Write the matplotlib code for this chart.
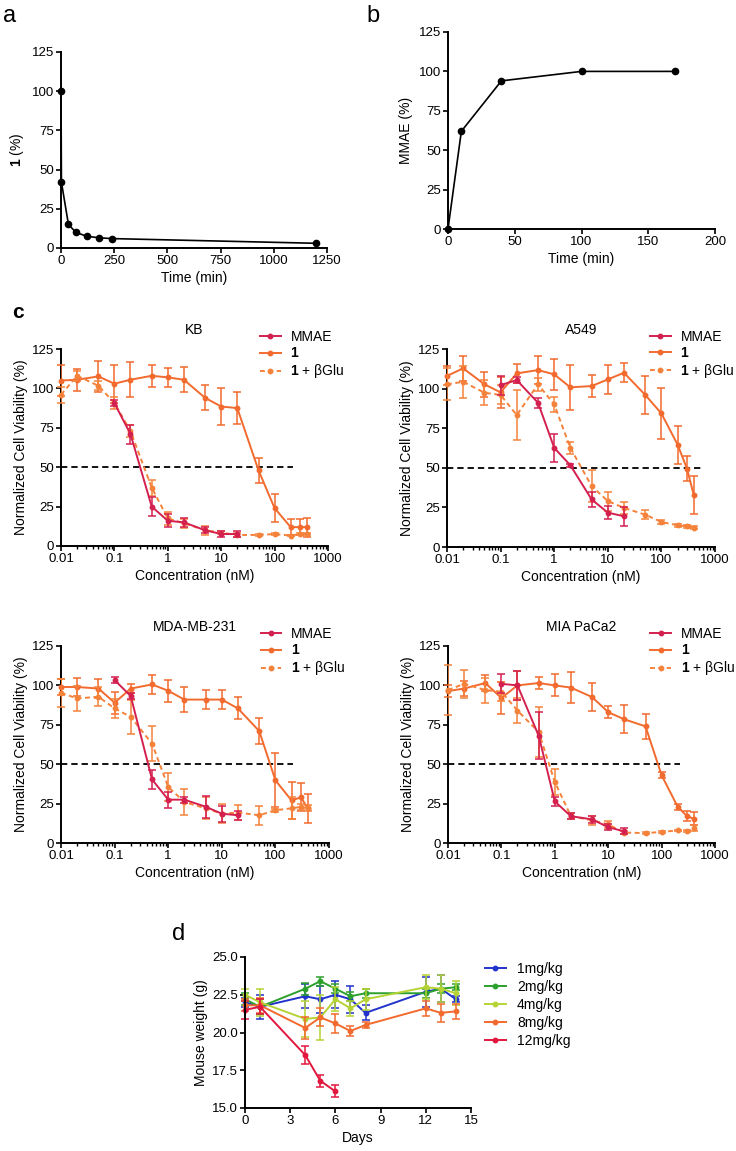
import matplotlib
matplotlib.use('Agg')
import matplotlib.pyplot as plt
from matplotlib.ticker import FixedLocator, LogLocator, NullFormatter

plt.rcParams['font.family'] = ['Liberation Sans', 'DejaVu Sans']
plt.rcParams['mathtext.fontset'] = 'custom'
plt.rcParams['mathtext.rm'] = 'Liberation Sans'
plt.rcParams['mathtext.bf'] = 'Liberation Sans:bold'

# panel a: release of 1 over time
time_a = [0, 2, 35, 70, 120, 180, 240, 1200]
remaining_a = [100, 42, 15, 10, 7.5, 6.5, 6, 3]

# panel b: MMAE formation
time_b = [0, 10, 40, 100, 170]
mmae_b = [0, 62, 94, 100, 100]

# panel c: cell viability (concentrations in nM)
conc = [0.01, 0.02, 0.05, 0.1, 0.2, 0.5, 1, 2, 5, 10, 20, 50, 100, 200, 300, 400]
conc_mmae = [0.1, 0.2, 0.5, 1, 2, 5, 10, 20]

kb_1 = [105, 105.5, 107.6, 103, 105.5, 108, 107, 105.5, 94, 88.5, 87.5, 48, 24, 12, 12, 12]
kb_1_err = [10, 7, 10, 12, 11, 7, 6, 8, 8, 12, 10, 8, 9, 5, 5, 6]
kb_glu = [96, 108, 101.7, 90.7, 73, 37, 17.5, 14.4, 10, 8.5, 7, 7, 7.6, 6.6, 7.6, 7.6]
kb_glu_err = [5, 3, 3, 4, 4, 5, 4, 3, 3, 1, 1, 0.5, 0.5, 0.5, 0.5, 0.5]
kb_mmae = [90.7, 71, 25, 16, 15, 10, 7.6, 7.6]
kb_mmae_err = [2, 6, 6, 4, 3, 2, 2, 2]

a549_1 = [108, 112.8, 102.7, 97.6, 109.6, 111.7, 109, 100.8, 101.6, 105.8, 110, 96, 84.3, 64.7, 49.5, 33]
a549_1_err = [6, 8, 8, 10, 6, 9, 10, 14, 7, 9, 6, 12, 16, 12, 8, 12]
a549_glu = [102.7, 104.3, 97.4, 96, 83.3, 102.7, 90, 62.6, 38.4, 29, 24.7, 20.4, 15.8, 13.7, 13, 12.2]
a549_glu_err = [10, 10, 8, 6, 16, 4, 5, 4, 10, 6, 4, 3, 1, 1, 1, 1]
a549_mmae = [102.2, 105.4, 91, 62.6, 51.6, 30, 21.7, 19.4]
a549_mmae_err = [6, 2, 3, 9, 1, 5, 4, 6]

mda_1 = [99, 99, 98, 89, 98, 100.6, 96.6, 91, 91, 91, 85.4, 71, 39.8, 27, 29, 22]
mda_1_err = [5, 6, 6, 7, 3, 6, 7, 8, 6, 6, 7, 8, 17, 12, 9, 9]
mda_glu = [95.3, 91.7, 92.8, 85.4, 80, 63, 35.6, 26, 22, 18.6, 19.3, 17.6, 20.8, 22, 22.9, 22]
mda_glu_err = [9, 8, 6, 6, 11, 11, 9, 8, 7, 6, 5, 6, 1, 7, 2, 2]
mda_mmae = [103.4, 93.2, 40.3, 27.5, 27.5, 23, 18.6, 17.6]
mda_mmae_err = [2, 2, 6, 5, 2, 7, 5, 3]

mia_1 = [96.4, 98, 101.5, 92, 100, 101.5, 100, 98.6, 92.6, 83, 78.5, 74, 43, 23, 17, 15.4]
mia_1_err = [4, 5, 5, 10, 9, 4, 7, 10, 9, 4, 9, 8, 2, 2, 3, 4]
mia_glu = [97, 101, 97, 96, 84, 70.4, 38.7, 17, 14.4, 11.8, 6.6, 6.3, 7, 8, 7.6, 9.7]
mia_glu_err = [16, 9, 8, 6, 8, 16, 8, 2, 3, 2, 1, 0.5, 0.5, 0.5, 0.5, 2]
mia_mmae = [101, 100, 68, 26.4, 17, 15, 10, 7.4]
mia_mmae_err = [6, 9, 15, 3, 2, 2, 2, 2]

# panel d: mouse weight
days = [0, 1, 4, 5, 6, 7, 8, 12, 13, 14]
days_12 = [0, 1, 4, 5, 6]
w_1 = [22.0, 21.7, 22.4, 22.2, 22.5, 22.2, 21.3, 22.7, 22.9, 22.2]
w_1_err = [0.3, 0.8, 0.8, 0.9, 0.9, 0.9, 0.5, 1.0, 0.9, 0.2]
w_2 = [22.2, 21.7, 22.9, 23.4, 22.9, 22.4, 22.6, 22.6, 22.9, 23.0]
w_2_err = [0.4, 0.5, 0.4, 0.3, 0.3, 0.3, 0.3, 0.3, 0.3, 0.2]
w_4 = [22.5, 22.0, 20.9, 21.0, 22.2, 21.6, 22.2, 23.0, 22.9, 22.6]
w_4_err = [0.4, 0.9, 1.2, 1.5, 0.8, 0.5, 0.7, 0.8, 0.9, 0.8]
w_8 = [21.8, 21.8, 20.3, 21.0, 20.6, 20.1, 20.5, 21.6, 21.3, 21.4]
w_8_err = [0.4, 0.5, 0.7, 0.6, 0.6, 0.3, 0.2, 0.5, 0.6, 0.5]
w_12 = [21.5, 21.7, 18.5, 16.8, 16.1]
w_12_err = [0.6, 0.5, 0.6, 0.4, 0.4]

MMAE_COLOR = '#d4204f'
ONE_COLOR = '#f26a2e'
GLU_COLOR = '#f5823a'
DOSE_COLORS = ['#2233cc', '#2ca02c', '#b5d334', '#f26a2e', '#e3173e']

W, H = 736, 1151


def rect(left, top, right, bottom):
    # pixel box -> figure fraction
    return [left / W, 1 - bottom / H, (right - left) / W, (bottom - top) / H]


def style_axes(ax):
    for side in ['top', 'right']:
        ax.spines[side].set_visible(False)
    for side in ['left', 'bottom']:
        ax.spines[side].set_linewidth(1.4)
    ax.tick_params(direction='out', length=3.5, width=1.2, labelsize=9.5, pad=1.5)


def viability_panel(ax, title, v1, e1, vglu, eglu, vmmae, emmae, ref_end, legend_x):
    style_axes(ax)
    l1, = ax.plot(conc, v1, '-o', color=ONE_COLOR, lw=1.4, ms=3.2, label=r'$\mathbf{1}$', zorder=3)
    ax.errorbar(conc, v1, yerr=e1, fmt='none', ecolor=ONE_COLOR, elinewidth=1.1, capsize=2.8, capthick=1.1, zorder=3)
    l2, = ax.plot(conc, vglu, '--o', color=GLU_COLOR, lw=1.4, ms=3.2, dashes=(2.5, 1.8),
                  label=r'$\mathbf{1}$ + βGlu', zorder=4)
    ax.errorbar(conc, vglu, yerr=eglu, fmt='none', ecolor=GLU_COLOR, elinewidth=1.1, capsize=2.8, capthick=1.1, zorder=4)
    l0, = ax.plot(conc_mmae, vmmae, '-o', color=MMAE_COLOR, lw=1.4, ms=3.2, label='MMAE', zorder=5)
    ax.errorbar(conc_mmae, vmmae, yerr=emmae, fmt='none', ecolor=MMAE_COLOR, elinewidth=1.1, capsize=2.8, capthick=1.1, zorder=5)
    ax.plot([0.01, ref_end], [50, 50], color='black', lw=1.3, dashes=(3.5, 2.2), zorder=2)
    ax.set_xscale('log')
    ax.set_xlim(0.01, 1000)
    ax.set_ylim(0, 125)
    ax.xaxis.set_major_locator(FixedLocator([0.01, 0.1, 1, 10, 100, 1000]))
    ax.set_xticklabels(['0.01', '0.1', '1', '10', '100', '1000'])
    ax.xaxis.set_minor_locator(LogLocator(base=10, subs=range(2, 10)))
    ax.xaxis.set_minor_formatter(NullFormatter())
    ax.tick_params(which='minor', direction='out', length=2.2, width=1.0)
    ax.set_yticks([0, 25, 50, 75, 100, 125])
    ax.set_xlabel('Concentration (nM)', fontsize=10, labelpad=3)
    ax.set_ylabel('Normalized Cell Viability (%)', fontsize=10, labelpad=3)
    ax.set_title(title, fontsize=10, pad=11)
    ax.legend(handles=[l0, l1, l2], loc='upper left', bbox_to_anchor=(legend_x, 1.095),
              frameon=False, fontsize=10, handlelength=1.5, handletextpad=0.7,
              labelspacing=0.15, borderpad=0, borderaxespad=0)
    for line in ax.lines:
        line.set_clip_on(False)


fig = plt.figure(figsize=(W / 100, H / 100), dpi=100)

# a
ax_a = fig.add_axes(rect(61, 52, 327, 248))
style_axes(ax_a)
ax_a.plot(time_a, remaining_a, '-o', color='black', lw=1.2, ms=4.5, clip_on=False)
ax_a.set_xlim(0, 1250)
ax_a.set_ylim(0, 125)
ax_a.set_xticks([0, 250, 500, 750, 1000, 1250])
ax_a.set_yticks([0, 25, 50, 75, 100, 125])
ax_a.set_xlabel('Time (min)', fontsize=10, labelpad=3)
ax_a.set_ylabel(r'$\mathbf{1}$ (%)', fontsize=10, labelpad=4)

# b
ax_b = fig.add_axes(rect(448, 32, 715, 229))
style_axes(ax_b)
ax_b.plot(time_b, mmae_b, '-o', color='black', lw=1.2, ms=4.5, clip_on=False)
ax_b.set_xlim(0, 200)
ax_b.set_ylim(0, 125)
ax_b.set_xticks([0, 50, 100, 150, 200])
ax_b.set_yticks([0, 25, 50, 75, 100, 125])
ax_b.set_xlabel('Time (min)', fontsize=10, labelpad=3)
ax_b.set_ylabel('MMAE (%)', fontsize=10, labelpad=4)

# c
ax_kb = fig.add_axes(rect(61, 349, 328, 546))
viability_panel(ax_kb, 'KB', kb_1, kb_1_err, kb_glu, kb_glu_err, kb_mmae, kb_mmae_err, 220, 0.745)
ax_a549 = fig.add_axes(rect(447, 349, 715, 547))
viability_panel(ax_a549, 'A549', a549_1, a549_1_err, a549_glu, a549_glu_err, a549_mmae, a549_mmae_err, 600, 0.757)
ax_mda = fig.add_axes(rect(61, 646, 329, 843))
viability_panel(ax_mda, 'MDA-MB-231', mda_1, mda_1_err, mda_glu, mda_glu_err, mda_mmae, mda_mmae_err, 210, 0.745)
ax_mia = fig.add_axes(rect(448, 646, 715, 843))
viability_panel(ax_mia, 'MIA PaCa2', mia_1, mia_1_err, mia_glu, mia_glu_err, mia_mmae, mia_mmae_err, 225, 0.757)

# d
ax_d = fig.add_axes(rect(245, 957, 471, 1108))
style_axes(ax_d)
series_d = [(days, w_1, w_1_err, '1mg/kg'), (days, w_2, w_2_err, '2mg/kg'),
            (days, w_4, w_4_err, '4mg/kg'), (days, w_8, w_8_err, '8mg/kg'),
            (days_12, w_12, w_12_err, '12mg/kg')]
handles = []
for (x, y, err, name), color in zip(series_d, DOSE_COLORS):
    h, = ax_d.plot(x, y, '-o', color=color, lw=1.4, ms=3.2, label=name, clip_on=False)
    ax_d.errorbar(x, y, yerr=err, fmt='none', ecolor=color, elinewidth=1.1, capsize=2.8, capthick=1.1, clip_on=False)
    handles.append(h)
ax_d.set_xlim(0, 15)
ax_d.set_ylim(15, 25)
ax_d.set_xticks([0, 3, 6, 9, 12, 15])
ax_d.set_yticks([15, 17.5, 20, 22.5, 25])
ax_d.set_yticklabels(['15.0', '17.5', '20.0', '22.5', '25.0'])
ax_d.set_xlabel('Days', fontsize=10, labelpad=3)
ax_d.set_ylabel('Mouse weight (g)', fontsize=10, labelpad=3)
ax_d.legend(handles=handles, loc='upper left', bbox_to_anchor=(1.062, 0.97), frameon=False,
            fontsize=10, handlelength=1.5, handletextpad=0.8, labelspacing=0.3,
            borderpad=0, borderaxespad=0)

# panel letters
fig.text(3 / W, 1 - 16 / H, 'a', fontsize=17, va='center', ha='left')
fig.text(366 / W, 1 - 16 / H, 'b', fontsize=17, va='center', ha='left')
fig.text(12 / W, 1 - 313 / H, 'c', fontsize=15, fontweight='bold', va='center', ha='left')
fig.text(172 / W, 1 - 934 / H, 'd', fontsize=17, va='center', ha='left')

fig.savefig('out.png', dpi=100)
